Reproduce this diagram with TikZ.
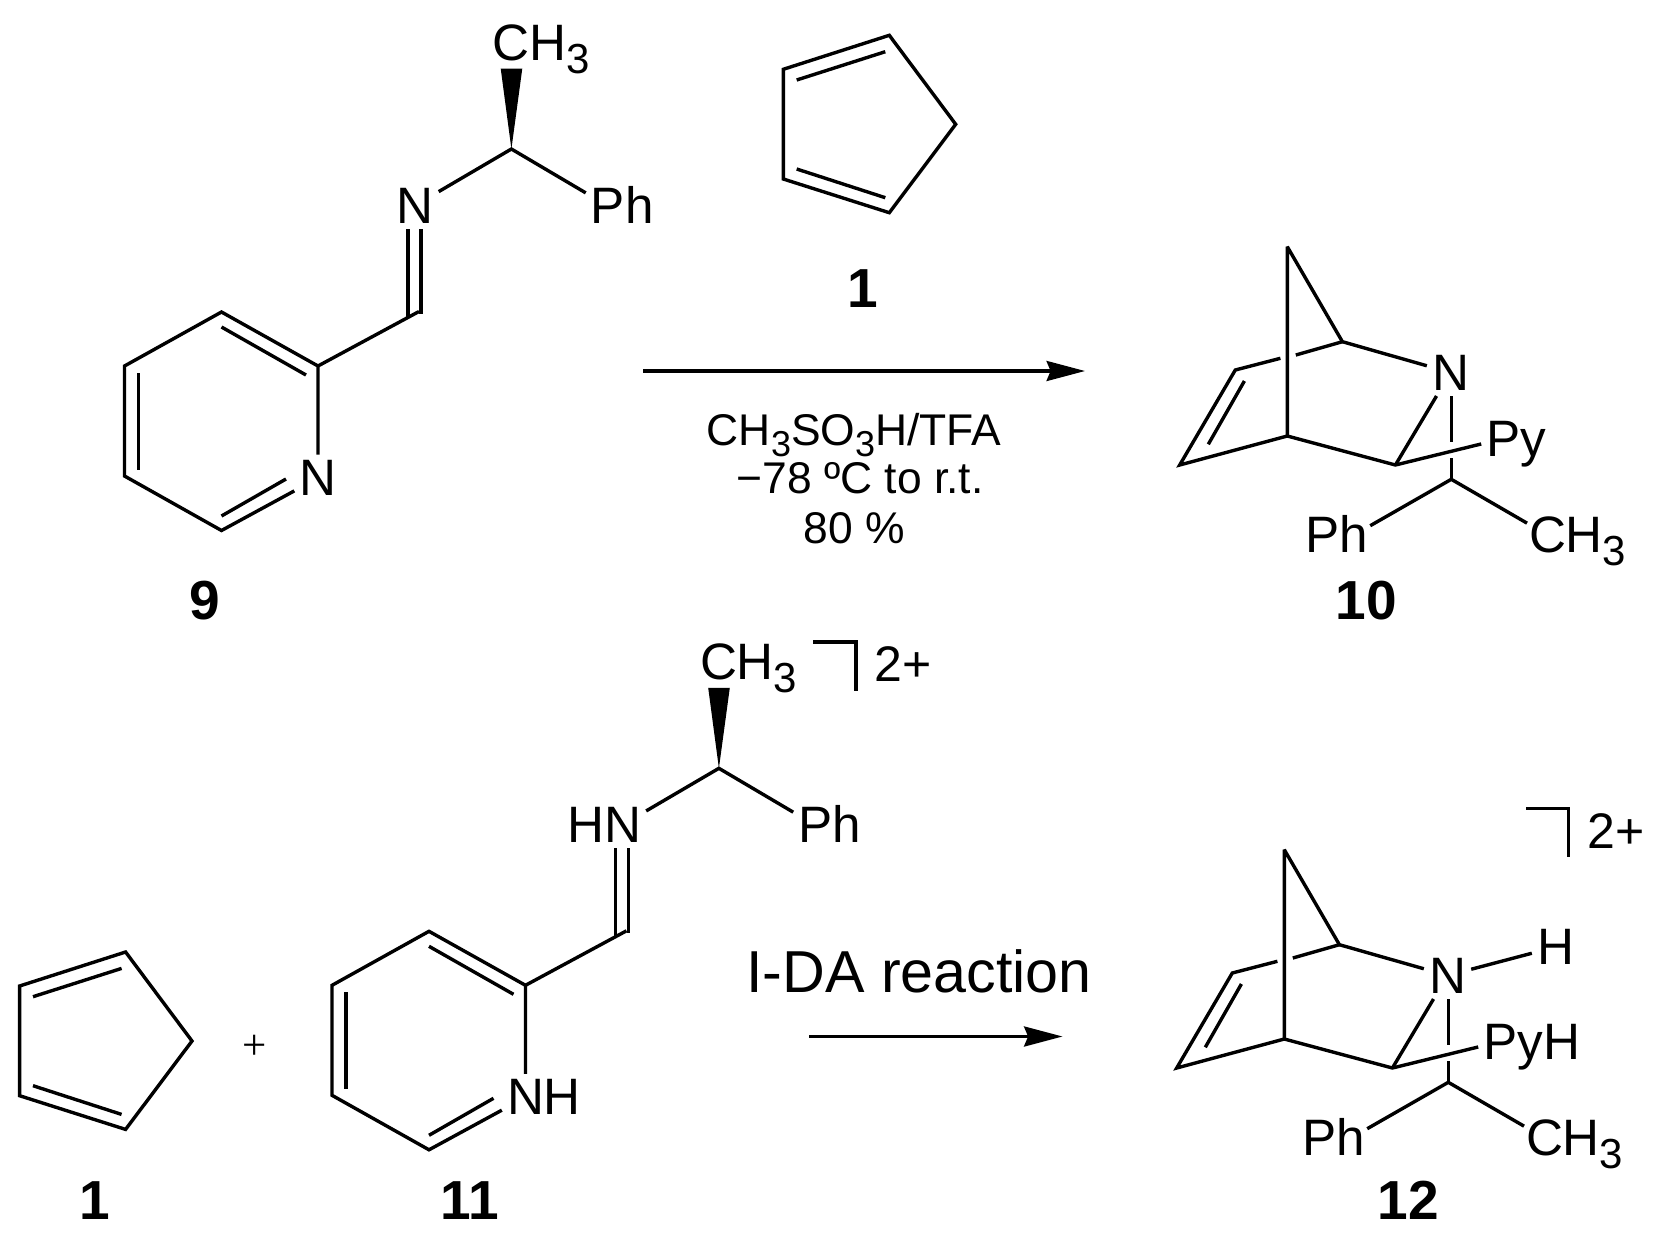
\documentclass[tikz,border=0pt]{standalone}
\usepackage{fontspec}
\setmainfont{Liberation Sans}
\usetikzlibrary{arrows.meta}
\tikzset{
    bond/.style={line width=1.7pt, line join=miter, miter limit=3},
    rxnarrow/.style={line width=1.6pt, -{Stealth[length=19.2pt, width=10pt, inset=2pt]}},
    atom/.style={font=\fontsize{25.6}{25.6}\selectfont, text height=17.5pt, text depth=0pt,
        inner xsep=2.6pt, inner ysep=3pt, outer sep=0pt},
    cmpd/.style={font=\fontsize{27.5}{27.5}\selectfont\bfseries, text height=19.5pt, text depth=0pt, inner sep=0pt},
    reagent/.style={font=\fontsize{22.2}{22.2}\selectfont, anchor=base, inner sep=0pt},
    charge/.style={font=\fontsize{25}{25}\selectfont, anchor=base, inner sep=0pt}
}
\newcommand{\subatom}{\raisebox{-6.5pt}{\fontsize{21}{21}\selectfont 3}}
\newcommand{\subreag}{\raisebox{-5.5pt}{\fontsize{18}{18}\selectfont 3}}

% cyclopentadiene: shift, prefix
\newcommand{\cpdiene}[2]{
    \begin{scope}[shift={#1}, name prefix=#2]
        \coordinate (c1) at (783.3, 69.3);
        \coordinate (c2) at (889.3, 35.3);
        \coordinate (c3) at (955.7, 124.3);
        \coordinate (c4) at (889.3, 212.7);
        \coordinate (c5) at (783.3, 179);
        \coordinate (i1) at (796.7, 80);
        \coordinate (i2) at (885.3, 51.7);
        \coordinate (i3) at (796.7, 169);
        \coordinate (i4) at (885.3, 197.7);
        \draw [bond] (c1) -- (c2) -- (c3) -- (c4) -- (c5) -- cycle;
        \draw [bond] (i1) -- (i2);
        \draw [bond] (i3) -- (i4);
    \end{scope}
}
% pyridyl imine: shift, prefix, imine N text, ring N text
\newcommand{\pyimine}[4]{
    \begin{scope}[shift={#1}, name prefix=#2]
        \node [atom, inner ysep=4.25pt] (ch3) at (511, 42.5) {C\rlap{H\subatom}};
        \node [atom] (nim) at (415, 205.5) {#3};
        \node [atom] (ph) at (608, 206) {P\rlap{h}};
        \node [atom] (npy) at (318, 478) {#4};
        \coordinate (c0) at (511.4, 149);
        \coordinate (cim) at (419, 311.5);
        \coordinate (dbr) at (421, 314);
        \coordinate (dbl) at (408, 317.3);
        \coordinate (r1) at (318, 366);
        \coordinate (r2) at (221.5, 312);
        \coordinate (r3) at (124.5, 366);
        \coordinate (r4) at (124.5, 476);
        \coordinate (r5) at (221.5, 530.5);
        \coordinate (i1) at (221.5, 327);
        \coordinate (i2) at (306, 375);
        \coordinate (i3) at (138.3, 373);
        \coordinate (i4) at (138.3, 469.5);
        \coordinate (i5) at (221.5, 516);
        \coordinate (i6) at (286, 479);
        \fill (c0) -- ([xshift=-5.15pt]ch3.south) -- ([xshift=5.65pt]ch3.south) -- cycle;
        \draw [bond] (nim) -- (c0) -- (ph);
        \draw [bond] (cim) -- (r1);
        \draw [bond] (dbr |- nim.south) -- (dbr);
        \draw [bond] (dbl |- nim.south) -- (dbl);
        \draw [bond] (npy) -- (r1) -- (r2) -- (r3) -- (r4) -- (r5) -- (npy);
        \draw [bond] (i1) -- (i2);
        \draw [bond] (i3) -- (i4);
        \draw [bond] (i5) -- (i6);
    \end{scope}
}
% azanorbornene: shift, prefix, Py text
\newcommand{\azanor}[3]{
    \begin{scope}[shift={#1}, name prefix=#2]
        \node [atom] (n) at (1450.5, 372.5) {N};
        \node [atom] (py) at (1503.5, 438.5) {#3};
        \node [atom, inner xsep=1pt] (ph) at (1354, 535) {\llap{P}h};
        \node [atom, inner xsep=1pt] (ch3) at (1547.5, 535) {C\rlap{H\subatom}};
        \coordinate (top) at (1287.3, 246.7);
        \coordinate (c1) at (1342.4, 341.7);
        \coordinate (c2) at (1235.3, 370);
        \coordinate (c3) at (1179.7, 465);
        \coordinate (c4) at (1287.3, 436);
        \coordinate (c5) at (1395.4, 465);
        \coordinate (c6) at (1451.3, 479.3);
        \coordinate (gap1) at (1295.8, 355);
        \coordinate (gap2) at (1280.4, 358.3);
        \coordinate (gap3) at (1451.3, 441.7);
        \coordinate (gap4) at (1451.3, 458.3);
        \coordinate (i1) at (1244.4, 381);
        \coordinate (i2) at (1208.3, 444.3);
        \draw [bond] (c4) -- (top) -- (c1) -- (n);
        \draw [bond] (c1) -- (gap1);
        \draw [bond] (gap2) -- (c2) -- (c3) -- (c4) -- (c5) -- (py);
        \draw [bond] (c5) -- (n);
        \draw [bond] (n.south -| gap3) -- (gap3);
        \draw [bond] (gap4) -- (c6);
        \draw [bond] (ph) -- (c6) -- (ch3);
        \draw [bond] (i1) -- (i2);
    \end{scope}
}

\begin{document}
\begin{tikzpicture}[x=0.5pt, y=-0.5pt]
    \useasboundingbox (0, 0) rectangle (1662, 1243);
    % top reaction
    \pyimine{(0, 0)}{a-}{N}{N}
    \cpdiene{(0, 0)}{b-}
    \azanor{(0, 0)}{c-}{P\rlap{y}}
    \node [cmpd] (nine) at (205, 600) {9};
    \node [cmpd] (oneA) at (862.5, 287.5) {1};
    \node [cmpd] (ten) at (1366, 600) {10};
    \coordinate (arrAs) at (643, 371);
    \coordinate (arrAe) at (1085, 371);
    \draw [rxnarrow] (arrAs) -- (arrAe);
    \node [reagent] (reagA) at (854, 445) {CH\subreag SO\subreag H/TFA};
    \node [reagent] (reagB) at (860, 493) {−78 ºC to r.t.};
    \node [reagent] (reagC) at (854, 543) {80 \%};
    % bottom reaction
    \cpdiene{(-763.7, 916.7)}{d-}
    \pyimine{(207.5, 619.3)}{e-}{\llap{H}N}{N\rlap{H}}
    \azanor{(-3, 603)}{f-}{P\rlap{yH}}
    \node [atom] (h) at (1555.5, 947) {H};
    \draw [bond] (f-n) -- (h);
    \node [font=\fontsize{21.5}{21.5}\selectfont\rmfamily, inner sep=0pt] (plus) at (254.4, 1047) {\fontspec{Liberation Serif}+};
    \node [cmpd] (oneB) at (94.5, 1199.5) {1};
    \node [cmpd] (eleven) at (470, 1199.5) {11};
    \node [cmpd] (twelve) at (1408, 1199.5) {12};
    \coordinate (arrBs) at (809, 1036.5);
    \coordinate (arrBe) at (1062.5, 1036.5);
    \draw [rxnarrow] (arrBs) -- (arrBe);
    \node [reagent, font=\fontsize{29.6}{29.6}\selectfont] (ida) at (919, 992.5) {I-DA reaction};
    % charge brackets
    \coordinate (brAa) at (813.3, 642);
    \coordinate (brAb) at (856, 642);
    \coordinate (brAc) at (856, 690.7);
    \draw [bond] (brAa) -- (brAb) -- (brAc);
    \node [charge] (chgA) at (903, 681.7) {2+};
    \coordinate (brBa) at (1526, 808.3);
    \coordinate (brBb) at (1568.7, 808.3);
    \coordinate (brBc) at (1568.7, 856.7);
    \draw [bond] (brBa) -- (brBb) -- (brBc);
    \node [charge] (chgB) at (1616, 848) {2+};
\end{tikzpicture}
\end{document}
